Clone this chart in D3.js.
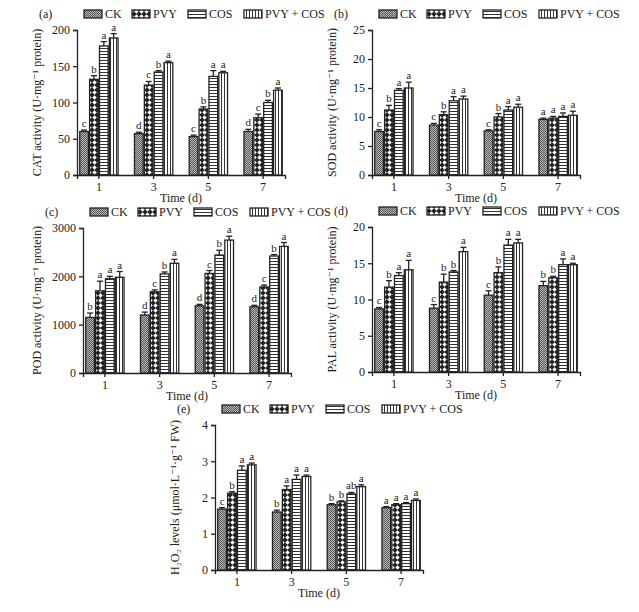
<!DOCTYPE html>
<html><head><meta charset="utf-8">
<script src="https://cdn.jsdelivr.net/npm/d3@7"></script>
<style>body{margin:0;background:#fff}text{font-family:"Liberation Serif","DejaVu Serif",serif;fill:#222}</style>
</head><body><div id="chart"></div>
<script>
const days = ["1", "3", "5", "7"];
const treatments = ["CK", "PVY", "COS", "PVY + COS"];

const catValues = [[60, 57, 53, 60], [132, 124, 91, 79], [178, 142, 136, 100], [189, 155, 141, 117]];
const catErrors = [[2, 2, 2, 3], [5, 5, 3, 5], [6, 2, 8, 3], [6, 2, 2, 3]];
const catLetters = [["c", "d", "c", "d"], ["b", "c", "b", "c"], ["a", "b", "a", "b"], ["a", "a", "a", "a"]];

const sodValues = [[7.5, 8.6, 7.6, 9.6], [11.2, 10.4, 10.0, 9.8], [14.6, 12.8, 11.2, 10.1], [15.0, 13.1, 11.7, 10.3]];
const sodErrors = [[0.3, 0.3, 0.2, 0.2], [0.8, 0.5, 0.6, 0.3], [0.3, 0.7, 0.6, 0.6], [1.0, 0.5, 0.5, 0.7]];
const sodLetters = [["c", "c", "c", "a"], ["b", "b", "b", "a"], ["a", "a", "a", "a"], ["a", "a", "a", "a"]];

const podValues = [[1150, 1200, 1390, 1370], [1700, 1680, 2060, 1780], [1950, 2050, 2440, 2420], [1980, 2270, 2750, 2620]];
const podErrors = [[90, 60, 30, 30], [200, 40, 60, 40], [50, 40, 100, 30], [120, 80, 80, 80]];
const podLetters = [["b", "d", "d", "d"], ["a", "c", "c", "c"], ["a", "b", "b", "b"], ["a", "a", "a", "a"]];

const palValues = [[8.7, 8.8, 10.6, 11.9], [11.7, 12.4, 13.7, 13.0], [13.3, 13.8, 17.5, 14.8], [14.1, 16.6, 17.8, 14.8]];
const palErrors = [[0.2, 0.5, 0.6, 0.6], [0.9, 1.1, 0.8, 0.2], [0.4, 0.2, 0.8, 0.8], [1.3, 0.6, 0.5, 0.2]];
const palLetters = [["c", "c", "c", "b"], ["b", "b", "b", "b"], ["a", "b", "a", "a"], ["a", "a", "a", "a"]];

const h2o2Values = [[1.68, 1.6, 1.8, 1.72], [2.12, 2.22, 1.88, 1.8], [2.75, 2.5, 2.1, 1.83], [2.9, 2.58, 2.3, 1.92]];
const h2o2Errors = [[0.04, 0.05, 0.03, 0.03], [0.04, 0.1, 0.03, 0.03], [0.12, 0.12, 0.04, 0.03], [0.05, 0.04, 0.05, 0.04]];
const h2o2Letters = [["c", "b", "b", "a"], ["b", "a", "b", "a"], ["a", "a", "ab", "a"], ["a", "a", "a", "a"]];

const panels = [
  {tag: "(a)", x: 77, y: 30, max: 200, step: 50, label: "CAT activity (U·mg⁻¹ protein)", v: catValues, e: catErrors, l: catLetters},
  {tag: "(b)", x: 372, y: 30, max: 25, step: 5, label: "SOD activity (U·mg⁻¹ protein)", v: sodValues, e: sodErrors, l: sodLetters},
  {tag: "(c)", x: 83, y: 228, max: 3000, step: 1000, label: "POD activity (U·mg⁻¹ protein)", v: podValues, e: podErrors, l: podLetters},
  {tag: "(d)", x: 372, y: 227, max: 20, step: 5, label: "PAL activity (U·mg⁻¹ protein)", v: palValues, e: palErrors, l: palLetters},
  {tag: "(e)", x: 215, y: 425, max: 4, step: 1, label: "H₂O₂ levels (μmol·L⁻¹·g⁻¹ FW)", v: h2o2Values, e: h2o2Errors, l: h2o2Letters}
];

const W = 639, H = 612, plotW = 208, plotH = 145;
const svg = d3.select("#chart").append("svg").attr("width", W).attr("height", H);

// fill patterns for the four treatments
const defs = svg.append("defs");
let p = defs.append("pattern").attr("id", "p0").attr("patternUnits", "userSpaceOnUse").attr("width", 2).attr("height", 2);
p.append("rect").attr("width", 2).attr("height", 2).attr("fill", "#bbb");
p.append("rect").attr("width", 1).attr("height", 1).attr("fill", "#555");
p.append("rect").attr("x", 1).attr("y", 1).attr("width", 1).attr("height", 1).attr("fill", "#555");
p = defs.append("pattern").attr("id", "p1").attr("patternUnits", "userSpaceOnUse").attr("width", 5).attr("height", 5);
p.append("rect").attr("width", 5).attr("height", 5).attr("fill", "#222");
p.append("path").attr("d", "M2.5,0.3L4.7,2.5L2.5,4.7L0.3,2.5Z").attr("fill", "#fff");
p = defs.append("pattern").attr("id", "p2").attr("patternUnits", "userSpaceOnUse").attr("width", 3).attr("height", 3);
p.append("rect").attr("width", 3).attr("height", 3).attr("fill", "#fff");
p.append("rect").attr("width", 3).attr("height", 1).attr("fill", "#333");
p = defs.append("pattern").attr("id", "p3").attr("patternUnits", "userSpaceOnUse").attr("width", 3).attr("height", 3);
p.append("rect").attr("width", 3).attr("height", 3).attr("fill", "#fff");
p.append("rect").attr("width", 1).attr("height", 3).attr("fill", "#333");

panels.forEach(cfg => {
  const g = svg.append("g").attr("transform", `translate(${cfg.x},${cfg.y})`);
  const x = d3.scaleBand().domain(days).range([0, plotW]).paddingInner(0.3).paddingOuter(0.05);
  const xs = d3.scaleBand().domain(d3.range(4)).range([0, x.bandwidth()]).paddingInner(0.12);
  const y = d3.scaleLinear().domain([0, cfg.max]).range([plotH, 0]);

  const ya = g.append("g").call(d3.axisLeft(y).tickValues(d3.range(0, cfg.max + 0.001, cfg.step)).tickSize(4).tickFormat(d3.format("d")));
  const xa = g.append("g").attr("transform", `translate(0,${plotH})`).call(d3.axisBottom(x).tickSize(4));
  [ya, xa].forEach(a => {
    a.select(".domain").attr("stroke", "#222").attr("stroke-width", 1.3);
    a.selectAll("line").attr("stroke", "#222").attr("stroke-width", 1.3);
    a.selectAll("text").attr("font-size", 12).attr("font-family", "Liberation Serif");
  });

  g.append("text").attr("x", plotW / 2).attr("y", plotH + 27).attr("text-anchor", "middle").attr("font-size", 12).text("Time (d)");
  g.append("text").attr("transform", `translate(${cfg.tag === "(c)" ? -42 : -36},${plotH / 2}) rotate(-90)`)
    .attr("text-anchor", "middle").attr("font-size", 12).text(cfg.label);
  g.append("text").attr("x", -38).attr("y", -12).attr("font-size", 12).text(cfg.tag);

  treatments.forEach((t, ti) => {
    const bars = g.append("g");
    days.forEach((d, di) => {
      const v = cfg.v[ti][di], e = cfg.e[ti][di];
      const bx = x(d) + xs(ti), bw = xs.bandwidth(), cx = bx + bw / 2;
      bars.append("line").attr("x1", cx).attr("x2", cx).attr("y1", y(v)).attr("y2", y(v + e)).attr("stroke", "#222").attr("stroke-width", 1.3);
      bars.append("line").attr("x1", cx - 3).attr("x2", cx + 3).attr("y1", y(v + e)).attr("y2", y(v + e)).attr("stroke", "#222").attr("stroke-width", 1.3);
      bars.append("rect").attr("x", bx).attr("y", y(v)).attr("width", bw).attr("height", plotH - y(v))
        .attr("fill", `url(#p${ti})`).attr("stroke", "#222").attr("stroke-width", 1.3);
      bars.append("text").attr("x", cx).attr("y", y(v + e) - 3).attr("text-anchor", "middle").attr("font-size", 11).attr("fill", "#222").text(cfg.l[ti][di]);
    });
  });

  // legend
  const lg = g.append("g").attr("transform", `translate(7,${-16})`);
  const offs = [0, 48, 104, 160];
  treatments.forEach((t, ti) => {
    lg.append("rect").attr("x", offs[ti]).attr("y", -4).attr("width", 18).attr("height", 8)
      .attr("fill", `url(#p${ti})`).attr("stroke", "#222").attr("stroke-width", 1.3);
    lg.append("text").attr("x", offs[ti] + 21).attr("y", 4).attr("font-size", 12).text(t);
  });
});
</script></body></html>
